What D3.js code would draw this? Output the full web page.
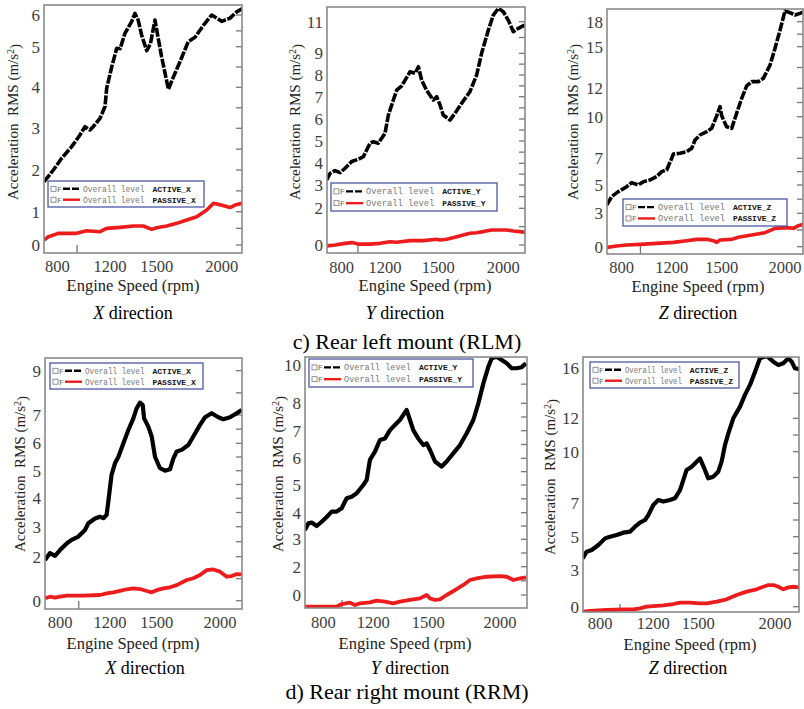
<!DOCTYPE html>
<html>
<head>
<meta charset="utf-8">
<script src="https://d3js.org/d3.v7.min.js"></script>
<style>
  body { margin: 0; background: #fff; }
  text { white-space: pre; }
</style>
</head>
<body>
<div id="fig"></div>
<script>
// engine speed (rpm), acceleration RMS (m/s^2) pairs
var rlmX_active = [[700,1.72],[770,2.0],[833,2.28],[909,2.56],[972,2.84],[1010,3.04],[1048,2.96],[1075,3.05],[1124,3.24],[1162,3.53],[1175,3.98],[1211,4.5],[1243,4.96],[1265,4.95],[1296,5.42],[1339,5.79],[1360,6.05],[1381,5.84],[1403,5.37],[1436,4.9],[1460,5.1],[1489,5.84],[1500,5.53],[1538,4.75],[1590,3.95],[1628,4.25],[1679,4.63],[1743,5.16],[1795,5.3],[1859,5.67],[1923,6.0],[1962,5.9],[2000,5.8],[2064,5.9],[2115,6.1],[2159,6.2]];
var rlmX_passive = [[700,0.15],[733,0.25],[807,0.35],[946,0.35],[1022,0.43],[1124,0.4],[1175,0.5],[1264,0.53],[1350,0.57],[1414,0.57],[1468,0.47],[1500,0.52],[1577,0.57],[1654,0.65],[1731,0.75],[1808,0.85],[1885,1.04],[1936,1.2],[1974,1.18],[2064,1.1],[2102,1.16],[2154,1.2]];

var rlmY_active = [[661,3.23],[692,3.53],[738,3.66],[785,3.57],[831,3.77],[892,4.08],[954,4.18],[1000,4.3],[1062,4.9],[1092,4.97],[1138,4.9],[1200,5.35],[1219,6.18],[1247,6.85],[1266,7.3],[1294,7.5],[1341,8.15],[1369,8.08],[1388,8.38],[1406,7.77],[1434,7.3],[1472,6.85],[1491,7.0],[1513,6.63],[1538,6.18],[1590,5.95],[1628,6.26],[1679,6.7],[1743,7.23],[1795,8.0],[1833,9.0],[1885,10.47],[1923,11.42],[1962,11.84],[2000,11.63],[2038,11.1],[2077,10.37],[2115,10.58],[2166,10.79]];
var rlmY_passive = [[661,-0.05],[738,0],[831,0.09],[892,0.13],[954,0.05],[1062,0.05],[1154,0.09],[1228,0.18],[1266,0.15],[1341,0.24],[1416,0.24],[1491,0.31],[1513,0.27],[1564,0.31],[1628,0.42],[1692,0.55],[1743,0.64],[1795,0.67],[1846,0.73],[1910,0.82],[1974,0.82],[2026,0.82],[2077,0.76],[2128,0.73],[2166,0.69]];

var rlmZ_active = [[680,3.59],[720,4.18],[773,4.53],[840,4.88],[880,5.18],[933,5.0],[973,5.25],[1027,5.38],[1080,5.63],[1120,6.0],[1160,6.13],[1200,7.0],[1210,7.31],[1250,7.36],[1290,7.48],[1320,7.72],[1340,8.32],[1370,8.68],[1410,8.92],[1440,9.16],[1470,10.06],[1490,10.71],[1500,10.06],[1539,9.28],[1579,9.16],[1618,10.24],[1658,11.29],[1697,12.17],[1737,12.48],[1789,12.48],[1829,12.72],[1882,13.68],[1921,14.88],[1961,17.0],[2000,19.3],[2039,19.08],[2079,18.8],[2118,19.0],[2150,19.2]];
var rlmZ_passive = [[680,-0.06],[760,0.06],[840,0.15],[947,0.21],[1080,0.3],[1210,0.39],[1290,0.54],[1350,0.66],[1410,0.66],[1450,0.54],[1470,0.39],[1490,0.6],[1579,0.66],[1632,0.84],[1737,1.05],[1842,1.26],[1921,1.65],[2013,1.71],[2066,1.65],[2105,1.89],[2150,2.04]];

var rrmX_active = [[680,1.85],[720,2.12],[760,2.03],[800,2.22],[853,2.44],[893,2.56],[947,2.67],[1000,2.89],[1027,3.12],[1080,3.29],[1120,3.35],[1147,3.3],[1173,3.42],[1187,3.9],[1210,4.85],[1232,5.27],[1254,5.51],[1286,6.0],[1318,6.47],[1350,6.88],[1371,7.3],[1393,7.56],[1410,7.45],[1419,6.88],[1446,6.59],[1468,6.24],[1489,5.51],[1526,5.09],[1566,5.0],[1605,5.05],[1632,5.45],[1658,5.7],[1697,5.76],[1750,5.94],[1789,6.24],[1842,6.65],[1882,6.92],[1934,7.08],[1987,6.92],[2026,6.85],[2079,6.92],[2132,7.08],[2171,7.23]];
var rrmX_passive = [[680,0.11],[720,0.18],[760,0.14],[800,0.18],[853,0.23],[987,0.23],[1120,0.26],[1173,0.33],[1221,0.38],[1264,0.45],[1307,0.52],[1350,0.56],[1393,0.53],[1436,0.44],[1468,0.38],[1500,0.48],[1553,0.56],[1605,0.61],[1658,0.71],[1737,0.94],[1789,1.02],[1842,1.17],[1895,1.39],[1947,1.42],[2000,1.32],[2053,1.09],[2092,1.12],[2132,1.21],[2171,1.2]];

var rrmY_active = [[653,3.35],[680,3.6],[707,3.63],[747,3.5],[787,3.66],[827,3.84],[867,4.04],[907,4.04],[947,4.16],[987,4.52],[1027,4.58],[1067,4.7],[1120,5.0],[1147,5.19],[1173,5.94],[1209,6.24],[1236,6.66],[1264,6.72],[1291,7.02],[1318,7.21],[1345,7.39],[1382,7.76],[1400,7.39],[1418,7.02],[1445,6.72],[1473,6.48],[1491,6.54],[1512,6.3],[1547,5.88],[1593,5.69],[1628,5.88],[1674,6.18],[1721,6.48],[1767,6.9],[1814,7.39],[1849,8.0],[1884,9.04],[1919,9.91],[1942,10.35],[1977,10.43],[2012,10.26],[2047,10.09],[2081,9.83],[2116,9.83],[2151,9.88],[2181,10.09]];
var rrmY_passive = [[653,-0.82],[773,-0.82],[907,-0.82],[947,-0.64],[1013,-0.54],[1053,-0.71],[1093,-0.59],[1173,-0.52],[1218,-0.4],[1264,-0.47],[1309,-0.59],[1345,-0.47],[1400,-0.35],[1455,-0.24],[1491,0],[1512,-0.24],[1547,-0.35],[1581,-0.31],[1628,0],[1686,0.35],[1744,0.71],[1791,1.06],[1837,1.18],[1907,1.29],[2000,1.34],[2047,1.29],[2093,1.06],[2140,1.18],[2181,1.25]];

var rrmZ_active = [[670,3.7],[700,4.1],[738,4.2],[788,4.5],[838,4.9],[875,5.0],[925,5.1],[975,5.24],[1025,5.3],[1063,5.6],[1100,5.84],[1138,6.0],[1163,6.3],[1200,6.9],[1233,7.19],[1267,7.1],[1311,7.19],[1344,7.29],[1378,7.77],[1400,8.35],[1422,8.94],[1456,9.13],[1489,9.42],[1511,9.61],[1543,8.94],[1565,8.45],[1598,8.55],[1630,8.84],[1652,9.42],[1674,10.4],[1696,11.1],[1728,12.0],[1772,12.93],[1804,13.87],[1837,14.67],[1870,15.73],[1902,16.8],[1946,16.99],[1989,16.53],[2022,16.27],[2054,16.4],[2087,16.8],[2109,16.53],[2130,16.0],[2159,15.92]];
var rrmZ_passive = [[670,-0.41],[725,-0.35],[850,-0.27],[975,-0.22],[1050,-0.22],[1100,-0.14],[1150,0],[1200,0.05],[1267,0.11],[1333,0.22],[1378,0.33],[1444,0.33],[1511,0.27],[1554,0.27],[1620,0.41],[1685,0.6],[1750,0.95],[1815,1.23],[1880,1.42],[1924,1.63],[1957,1.77],[1989,1.77],[2022,1.63],[2054,1.42],[2087,1.58],[2120,1.63],[2159,1.58]];

// tick labels as printed
var speedTicks = [800, 1200, 1500, 2000];
var rlmX_ticks = [0, 1, 2, 3, 4, 5, 6];
var rlmY_ticks = [0, 2, 3, 4, 5, 6, 7, 8, 9, 11];
var rlmZ_ticks = [0, 3, 5, 7, 10, 12, 15, 18];
var rrmX_ticks = [0, 2, 3, 4, 5, 6, 7, 9];
var rrmY_ticks = [0, 2, 3, 4, 5, 6, 7, 8, 10];
var rrmZ_ticks = [0, 3, 5, 7, 10, 12, 16];

var dirs = ["X", "Y", "Z"];
var captions = ["c) Rear left mount (RLM)", "d) Rear right mount (RRM)"];

// layout of each panel (the printed axes are not evenly spaced, so scales are piecewise)
var panels = [
  {dir: 0, row: 0, active: rlmX_active, passive: rlmX_passive, ticks: rlmX_ticks,
   f: {l: 44, r: 242, t: 5, b: 253}, yPos: [245, 211.7, 170, 128.3, 87.3, 46.7, 15],
   xPos: [57.3, 110, 156.7, 221.7], xlY: 267, leg: {l: 48, t: 181, w: 156, h: 26},
   ttl: [13, 122], xl: [133, 285], dl: [133, 313]},
  {dir: 1, row: 0, active: rlmY_active, passive: rlmY_passive, ticks: rlmY_ticks,
   f: {l: 327, r: 525, t: 7, b: 253}, yPos: [245, 208.3, 185, 163.3, 141, 119, 96.7, 75, 53.3, 21.7],
   xPos: [341.7, 385, 438.3, 503.3], xlY: 268, leg: {l: 331, t: 183, w: 166, h: 28},
   ttl: [295, 122], xl: [425, 285], dl: [405, 313]},
  {dir: 2, row: 0, active: rlmZ_active, passive: rlmZ_passive, ticks: rlmZ_ticks,
   f: {l: 607, r: 803, t: 9, b: 254}, yPos: [246.7, 213.3, 185, 158.3, 116.7, 88.3, 46.7, 21.7],
   xPos: [621.7, 671.7, 721.7, 785], xlY: 268, leg: {l: 623, t: 199, w: 164, h: 27},
   ttl: [573, 122], xl: [698, 286], dl: [698, 313]},
  {dir: 0, row: 1, active: rrmX_active, passive: rrmX_passive, ticks: rrmX_ticks,
   f: {l: 45, r: 242, t: 358, b: 609}, yPos: [600.7, 556.7, 526.7, 498.3, 470.7, 443.3, 415, 370.7],
   xPos: [60, 110, 156.7, 220], xlY: 623, leg: {l: 50, t: 363, w: 153, h: 26},
   ttl: [20, 474], xl: [133, 643], dl: [145, 668]},
  {dir: 1, row: 1, active: rrmY_active, passive: rrmY_passive, ticks: rrmY_ticks,
   f: {l: 305, r: 527, t: 357, b: 608}, yPos: [595, 566.7, 539.3, 512.7, 485, 458.3, 430.7, 403.3, 365],
   xPos: [323.3, 373.3, 428.3, 500], xlY: 623, leg: {l: 309, t: 359, w: 164, h: 28},
   ttl: [278, 474], xl: [405, 643], dl: [410, 668]},
  {dir: 2, row: 1, active: rrmZ_active, passive: rrmZ_passive, ticks: rrmZ_ticks,
   f: {l: 583, r: 799, t: 357, b: 612}, yPos: [606.7, 570, 536.7, 503.3, 451.7, 418.3, 368.3],
   xPos: [600, 653.3, 698.3, 775], xlY: 624, leg: {l: 590, t: 362, w: 149, h: 26},
   ttl: [550, 477], xl: [690, 644], dl: [688, 668]}
];

var W = 804, H = 709;
var serif = "'Liberation Serif', 'Times New Roman', serif";
var mono = "'Liberation Mono', 'DejaVu Sans Mono', monospace";

var svg = d3.select("#fig").append("svg")
  .attr("width", W).attr("height", H)
  .attr("xmlns", "http://www.w3.org/2000/svg");

var defs = svg.append("defs");

panels.forEach(function(p, i) {
  var f = p.f;
  var x = d3.scaleLinear().domain(speedTicks).range(p.xPos);
  var y = d3.scaleLinear().domain(p.ticks).range(p.yPos);
  var g = svg.append("g");

  defs.append("clipPath").attr("id", "clip" + i)
    .append("rect").attr("x", f.l).attr("y", f.t)
    .attr("width", f.r - f.l).attr("height", f.b - f.t);

  // inner minor ticks: right side at labels and midpoints, one on the bottom
  var rt = [];
  p.ticks.forEach(function(v, k) {
    rt.push(v);
    if (k < p.ticks.length - 1) rt.push((v + p.ticks[k + 1]) / 2);
  });
  g.selectAll(".rt").data(rt).enter().append("line")
    .attr("x1", f.r - 6).attr("x2", f.r)
    .attr("y1", function(d) { return y(d); }).attr("y2", function(d) { return y(d); })
    .attr("stroke", "#777").attr("stroke-width", 1.3);
  g.selectAll(".bt").data([950]).enter().append("line")
    .attr("x1", function(d) { return x(d); }).attr("x2", function(d) { return x(d); })
    .attr("y1", f.b - 8).attr("y2", f.b)
    .attr("stroke", "#777").attr("stroke-width", 1.3);

  var line = d3.line()
    .x(function(d) { return x(d[0]); })
    .y(function(d) { return y(d[1]); });

  var plot = g.append("g").attr("clip-path", "url(#clip" + i + ")");
  plot.append("path").datum(p.passive).attr("d", line)
    .attr("fill", "none").attr("stroke", "#ec1c1c")
    .attr("stroke-width", p.row == 0 ? 3.6 : 3.8).attr("stroke-linejoin", "round");
  plot.append("path").datum(p.active).attr("d", line)
    .attr("fill", "none").attr("stroke", "#000")
    .attr("stroke-width", p.row == 0 ? 3.6 : 4.2)
    .attr("stroke-linejoin", "round")
    .attr("stroke-dasharray", p.row == 0 ? "9,1.5" : null);

  // frame
  g.append("rect").attr("x", f.l).attr("y", f.t)
    .attr("width", f.r - f.l).attr("height", f.b - f.t)
    .attr("fill", "none").attr("stroke", "#8a8a8a").attr("stroke-width", 1.6);

  // tick labels
  g.selectAll(".yl").data(p.ticks).enter().append("text")
    .attr("x", f.l - 4).attr("y", function(d) { return y(d); })
    .attr("dy", "0.35em").attr("text-anchor", "end")
    .attr("font-family", serif).attr("font-size", 17).attr("fill", "#3c3c3c")
    .text(function(d) { return d; });
  g.selectAll(".xl").data(speedTicks).enter().append("text")
    .attr("x", function(d) { return x(d); }).attr("y", p.xlY)
    .attr("dy", "0.32em").attr("text-anchor", "middle")
    .attr("font-family", serif).attr("font-size", 16.5).attr("fill", "#3c3c3c")
    .text(function(d) { return d; });

  // axis titles
  var yt = g.append("text")
    .attr("transform", "translate(" + p.ttl[0] + "," + p.ttl[1] + ") rotate(-90)")
    .attr("dy", "0.35em").attr("text-anchor", "middle")
    .attr("font-family", serif).attr("font-size", 15).attr("fill", "#222");
  yt.append("tspan").text("Acceleration  RMS (m/s");
  yt.append("tspan").attr("dy", "-0.4em").attr("font-size", 10).text("2");
  yt.append("tspan").attr("dy", "0.4em").text(")");

  g.append("text").attr("x", p.xl[0]).attr("y", p.xl[1])
    .attr("dy", "0.35em").attr("text-anchor", "middle")
    .attr("font-family", serif).attr("font-size", 16.5).attr("fill", "#222")
    .text("Engine Speed (rpm)");

  var dt = g.append("text").attr("x", p.dl[0]).attr("y", p.dl[1])
    .attr("dy", "0.35em").attr("text-anchor", "middle")
    .attr("font-family", serif).attr("font-size", 18).attr("fill", "#000");
  dt.append("tspan").attr("font-style", "italic").text(dirs[p.dir]);
  dt.append("tspan").text(" direction");

  // legend
  var L = p.leg;
  var nameX = L.w * 0.67;
  var lg = g.append("g").attr("transform", "translate(" + L.l + "," + L.t + ")");
  lg.append("rect").attr("width", L.w).attr("height", L.h)
    .attr("fill", "#fff").attr("stroke", "#4a56a6").attr("stroke-width", 1.3);
  var rows = [
    {name: "ACTIVE_" + dirs[p.dir], color: "#000", dash: "7,2"},
    {name: "PASSIVE_" + dirs[p.dir], color: "#ec1c1c", dash: null}
  ];
  var rowY = [L.h * 0.3, L.h * 0.72];
  rows.forEach(function(r, k) {
    var ry = rowY[k];
    lg.append("rect").attr("x", 3).attr("y", ry - 2.5).attr("width", 5).attr("height", 5)
      .attr("fill", "none").attr("stroke", "#777").attr("stroke-width", 0.8);
    lg.append("text").attr("x", 9).attr("y", ry).attr("dy", "0.35em")
      .attr("font-family", mono).attr("font-size", 8).attr("fill", "#666").text("F");
    lg.append("line").attr("x1", 15).attr("x2", 32).attr("y1", ry).attr("y2", ry)
      .attr("stroke", r.color).attr("stroke-width", 2.4).attr("stroke-dasharray", r.dash);
    lg.append("text").attr("x", 35).attr("y", ry).attr("dy", "0.35em")
      .attr("font-family", mono).attr("font-size", 8.5).attr("fill", "#777")
      .attr("textLength", nameX - 35 - 8).attr("lengthAdjust", "spacingAndGlyphs")
      .text("Overall level");
    lg.append("text").attr("x", nameX).attr("y", ry).attr("dy", "0.35em")
      .attr("font-family", mono).attr("font-size", 8).attr("font-weight", "bold")
      .attr("fill", "#111").text(r.name);
  });
});

// row captions
svg.selectAll(".cap").data(captions).enter().append("text")
  .attr("x", 407).attr("y", function(d, i) { return i == 0 ? 341 : 691; })
  .attr("dy", "0.35em").attr("text-anchor", "middle")
  .attr("font-family", serif).attr("font-size", 22).attr("fill", "#000")
  .text(function(d) { return d; });
</script>
</body>
</html>
